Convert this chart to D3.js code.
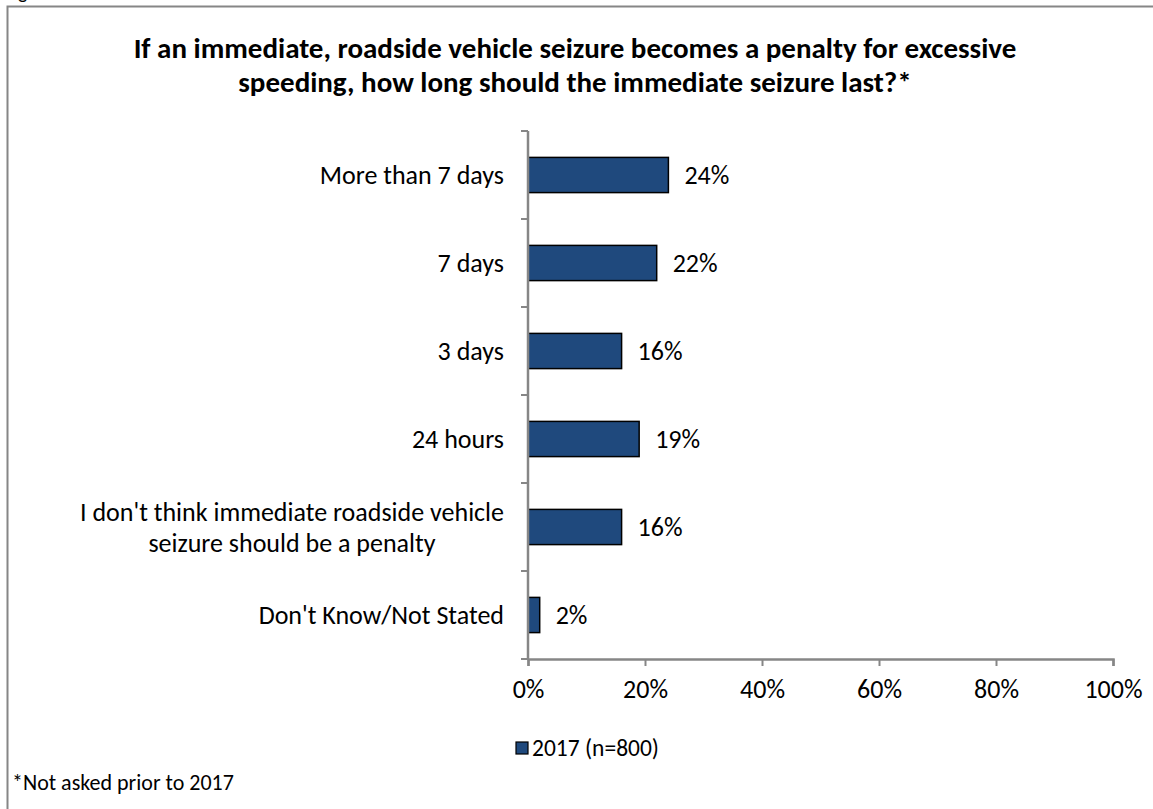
<!DOCTYPE html>
<html>
<head>
<meta charset="utf-8">
<script src="https://cdn.jsdelivr.net/npm/d3@7"></script>
<style>
  html, body { margin: 0; padding: 0; background: #fff; }
  svg { display: block; font-family: Calibri, Carlito, Lato, "Open Sans", sans-serif; }
</style>
</head>
<body>
<svg id="chart" width="1153" height="809"></svg>
<script>
// Survey responses: length of roadside vehicle seizure
const categories = [
  ["More than 7 days"],
  ["7 days"],
  ["3 days"],
  ["24 hours"],
  ["I don't think immediate roadside vehicle", "seizure should be a penalty"],
  ["Don't Know/Not Stated"]
];
const values2017 = [0.24, 0.22, 0.16, 0.19, 0.16, 0.02];
const xTicks = [0, 0.2, 0.4, 0.6, 0.8, 1.0];
const titleLines = [
  "If an immediate, roadside vehicle seizure becomes a penalty for excessive",
  "speeding, how long should the immediate seizure last?*"
];
const legendLabel = "2017 (n=800)";
const footnote = "*Not asked prior to 2017";

const barColor = "#1F497D";
const axisColor = "#868686";
const labelSize = 26;

const svg = d3.select("#chart");
const keys = categories.map(c => c.join(" "));

// outer frame of the chart object
svg.append("rect")
  .attr("x", 7.5).attr("y", 6.5)
  .attr("width", 1170).attr("height", 830)
  .attr("fill", "#fff")
  .attr("stroke", axisColor).attr("stroke-width", 2);

// descender of the caption line above the frame
svg.append("text").attr("x", 18).attr("y", -1)
  .attr("font-size", 20).attr("fill", "#000").text("g");

// title
svg.append("g").selectAll("text").data(titleLines).join("text")
  .attr("x", 575).attr("y", (d, i) => 58 + i * 34)
  .attr("text-anchor", "middle")
  .attr("font-size", 29).attr("font-weight", "bold").attr("fill", "#000")
  .text(d => d);

const x = d3.scaleLinear().domain([0, 1]).range([528, 1113]);
const y = d3.scaleBand().domain(keys).range([131, 659])
  .paddingInner(0.6).paddingOuter(0.3);
const step = y.step();

// bars
svg.append("g").selectAll("rect").data(values2017).join("rect")
  .attr("x", x(0))
  .attr("y", (d, i) => y(keys[i]))
  .attr("width", d => x(d) - x(0))
  .attr("height", y.bandwidth())
  .attr("fill", barColor)
  .attr("stroke", "#000").attr("stroke-width", 1.5);

// value labels
const fmt = d3.format(".0%");
svg.append("g").selectAll("text").data(values2017).join("text")
  .attr("x", d => x(d) + 16)
  .attr("y", (d, i) => y(keys[i]) + y.bandwidth() / 2 + 9)
  .attr("font-size", labelSize).attr("fill", "#000")
  .text(d => fmt(d));

// x axis
const xAxis = svg.append("g")
  .attr("transform", `translate(0,${659})`)
  .call(d3.axisBottom(x).tickValues(xTicks).tickFormat(d3.format(".0%")).tickSizeOuter(0).tickSize(7).tickPadding(14));
xAxis.select(".domain").attr("stroke", axisColor).attr("stroke-width", 2.5);
xAxis.selectAll(".tick line").attr("stroke", axisColor).attr("stroke-width", 2);
xAxis.selectAll(".tick text").attr("font-size", labelSize).attr("fill", "#000")
  .attr("font-family", "Calibri, Carlito, Lato, 'Open Sans', sans-serif");

// y axis line with ticks between categories
const yTop = y.range()[0], yBot = y.range()[1];
const boundaries = d3.range(keys.length + 1).map(i => yTop + i * step);
const yAxis = svg.append("g");
yAxis.append("line")
  .attr("x1", x(0)).attr("x2", x(0)).attr("y1", yTop).attr("y2", yBot + 1)
  .attr("stroke", axisColor).attr("stroke-width", 2.5);
yAxis.selectAll("line.tick").data(boundaries).join("line").attr("class", "tick")
  .attr("x1", x(0) - 7).attr("x2", x(0)).attr("y1", d => d).attr("y2", d => d)
  .attr("stroke", axisColor).attr("stroke-width", 2);

// category labels (multi-line ones are centred within their block)
const labels = svg.append("g");
categories.forEach((lines, i) => {
  const cy = y(keys[i]) + y.bandwidth() / 2;
  const lh = 31;
  const t = labels.append("text").attr("font-size", labelSize).attr("fill", "#000");
  const spans = lines.map(l => t.append("tspan").text(l));
  const widths = spans.map(ts => ts.node().getComputedTextLength());
  const maxW = d3.max(widths);
  const right = x(0) - 24;
  spans.forEach((ts, j) => {
    ts.attr("x", right - maxW / 2).attr("text-anchor", "middle")
      .attr("y", cy + 9 + (j - (lines.length - 1) / 2) * lh);
  });
});

// legend
const lg = svg.append("g");
lg.append("rect").attr("x", 516).attr("y", 742).attr("width", 12).attr("height", 12)
  .attr("fill", barColor).attr("stroke", "#000").attr("stroke-width", 1.2);
lg.append("text").attr("x", 532).attr("y", 756).attr("font-size", 23.5).attr("fill", "#000")
  .text(legendLabel);

// footnote
svg.append("text").attr("x", 12).attr("y", 790).attr("font-size", 22).attr("fill", "#000")
  .text(footnote);
</script>
</body>
</html>
